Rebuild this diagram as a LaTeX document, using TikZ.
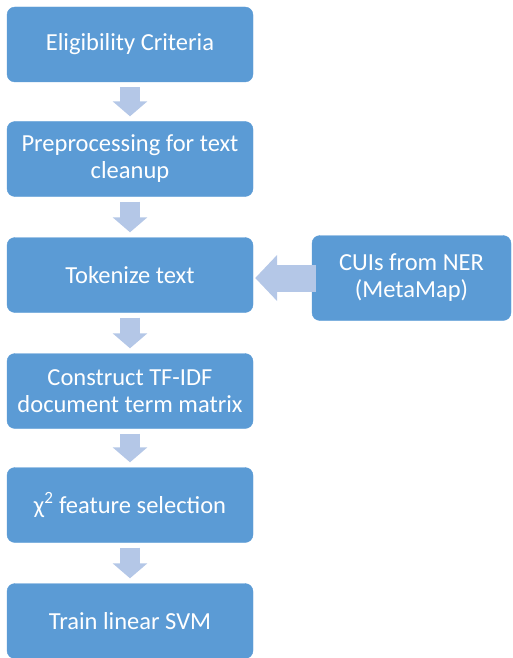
\documentclass[tikz,border=0pt]{standalone}
\usepackage{fontspec}
\setmainfont{Carlito}
\usetikzlibrary{arrows.meta}
\definecolor{boxblue}{HTML}{5B9BD5}
\definecolor{arrowblue}{HTML}{B4C7E7}
\begin{document}
\begin{tikzpicture}[x=1pt, y=-1pt]
  % stijlen
  \tikzset{
    stage/.style={fill=boxblue, draw=boxblue, rounded corners=8pt, text=white, align=center,
      minimum width=246pt, minimum height=75pt, inner sep=0pt,
      font=\fontsize{24.5}{27}\selectfont},
    flow/.style={draw=arrowblue, line width=20pt, -{Triangle[length=15pt,width=34pt]}},
    sideflow/.style={draw=arrowblue, line width=27pt, -{Triangle[length=22pt,width=45pt]}}
  }
  \useasboundingbox (0,0) rectangle (512,658);
  % stappen
  \node[stage] (elig) at (130,44.5) {Eligibility Criteria};
  \node[stage] (prep) at (130,159) {Preprocessing for text\\cleanup};
  \node[stage] (tok) at (130,275) {Tokenize text};
  \node[stage] (tfidf) at (130,391) {Construct TF-IDF\\document term matrix};
  \node[stage] (chi) at (130,505) {χ\textsuperscript{2} feature selection};
  \node[stage] (svm) at (130,621) {Train linear SVM};
  % zijinvoer
  \node[stage, minimum width=199pt, minimum height=85pt] (cui) at (411.5,278) {CUIs from NER\\(MetaMap)};
  % pijlen
  \draw[flow] ([yshift=-5pt]elig.south) -- ([yshift=5pt]prep.north);
  \draw[flow] ([yshift=-5pt]prep.south) -- ([yshift=5pt]tok.north);
  \draw[flow] ([yshift=-5pt]tok.south) -- ([yshift=5pt]tfidf.north);
  \draw[flow] ([yshift=-5pt]tfidf.south) -- ([yshift=5pt]chi.north);
  \draw[flow] ([yshift=-5pt]chi.south) -- ([yshift=5pt]svm.north);
  \draw[sideflow] ([xshift=4pt]cui.west) -- ([xshift=2pt]tok.east |- cui.west);
\end{tikzpicture}
\end{document}
